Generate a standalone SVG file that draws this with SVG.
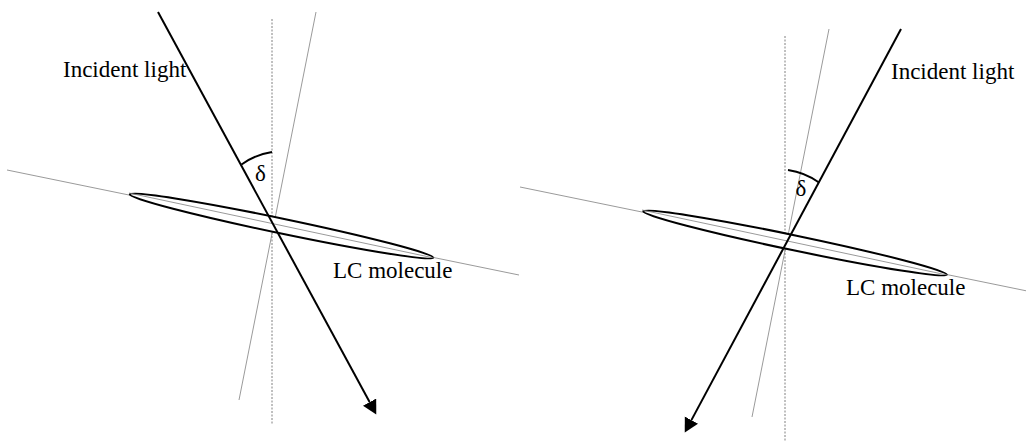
<svg xmlns="http://www.w3.org/2000/svg" width="1026" height="444" viewBox="0 0 1026 444">
<style>
.thin{stroke:#808080;stroke-width:0.8;fill:none}
.dash{stroke:#808080;stroke-width:1;stroke-dasharray:2 1.5;fill:none}
.ray{stroke:#000;stroke-width:2;fill:none}
.mol{stroke:#000;stroke-width:2;fill:#fff}
.arc{stroke:#000;stroke-width:2;fill:none}
.lbl{font-family:"Liberation Serif","Times New Roman",serif;font-size:23px;fill:#000}
</style>
<defs>
<marker id="ah" markerUnits="userSpaceOnUse" markerWidth="16" markerHeight="16" refX="0" refY="7.5" orient="auto">
<path d="M0,0 L14,7.5 L0,15 z" fill="#000"/>
</marker>
</defs>
<rect width="1026" height="444" fill="#fff"/>
<g id="left-panel">
<g id="left-axes">
<line class="thin" x1="7" y1="170" x2="519" y2="275"/>
<line class="thin" x1="316" y1="12" x2="239" y2="400"/>
<line class="dash" x1="272" y1="19" x2="272" y2="425"/>
</g>
<g id="left-molecule">
<ellipse class="mol" cx="281.5" cy="226" rx="155" ry="7.5" transform="rotate(11.8 281.5 226)"/>
<line class="thin" x1="129" y1="193" x2="434" y2="258"/>
</g>
<g id="left-connectors">
<line class="ray" x1="158" y1="12" x2="369.6" y2="402.1" marker-end="url(#ah)"/>
<path class="arc" d="M241.5,164.5 A70,70 0 0 1 272,152"/>
</g>
<text class="lbl" x="63" y="77">Incident light</text>
<text class="lbl" x="260.5" y="181" text-anchor="middle">δ</text>
<text class="lbl" x="333" y="278">LC molecule</text>
</g>
<g id="right-panel">
<g id="right-axes">
<line class="thin" x1="520" y1="187" x2="1032" y2="292"/>
<line class="thin" x1="829" y1="29" x2="752" y2="417"/>
<line class="dash" x1="785" y1="36" x2="785" y2="442"/>
</g>
<g id="right-molecule">
<ellipse class="mol" cx="795" cy="243" rx="155" ry="7.5" transform="rotate(11.8 795 243)"/>
<line class="thin" x1="642" y1="210" x2="947" y2="275"/>
</g>
<g id="right-connectors">
<line class="ray" x1="901" y1="29" x2="691.4" y2="420.1" marker-end="url(#ah)"/>
<path class="arc" d="M788,170 A70,70 0 0 1 819,182.5"/>
</g>
<text class="lbl" x="891" y="79">Incident light</text>
<text class="lbl" x="801" y="196" text-anchor="middle">δ</text>
<text class="lbl" x="846" y="295">LC molecule</text>
</g>
</svg>
